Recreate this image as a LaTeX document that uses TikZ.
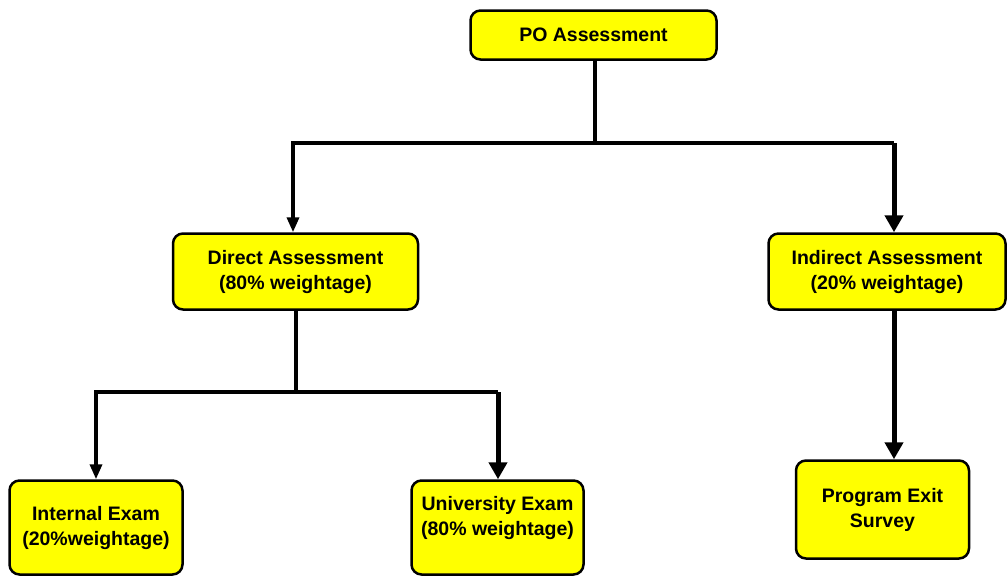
\documentclass[tikz,border=0pt]{standalone}
\usepackage{fontspec}
\setmainfont{Liberation Sans}
\usetikzlibrary{arrows.meta}
\definecolor{boxyellow}{RGB}{255,255,0}
\begin{document}
\begin{tikzpicture}[x=1pt,y=-1pt,
  box/.style={draw=black, line width=2.5pt, fill=boxyellow, rounded corners=10pt, align=center, font=\fontsize{19.5}{25}\selectfont\bfseries, inner sep=0pt},
  lbl/.style={align=center, font=\fontsize{19.5}{25}\selectfont\bfseries, inner sep=0pt},
  conn/.style={line width=3.5pt},
  thinarrow/.style={line width=3.5pt, -{Triangle[width=12pt,length=15pt]}},
  thickarrow/.style={line width=5pt, -{Triangle[width=18pt,length=17pt]}}]
\useasboundingbox (0,0) rectangle (1007,576);
\node[box, minimum width=246pt, minimum height=49pt] (po) at (593.5,35) {PO Assessment};
\node[box, minimum width=245pt, minimum height=76pt] (direct) at (295.5,271.5) {Direct Assessment\\(80\% weightage)};
\node[box, minimum width=237pt, minimum height=76pt] (indirect) at (887,271.5) {Indirect Assessment\\(20\% weightage)};
\node[box, minimum width=173pt, minimum height=94pt] (internal) at (96,527.5) {Internal Exam\\(20\%weightage)};
\node[box, minimum width=172pt, minimum height=94pt] (univ) at (497.5,527.5) {};
\node[lbl] (univtext) at (497.5,518) {University Exam\\(80\% weightage)};
\node[box, minimum width=173pt, minimum height=98pt] (exit) at (882.5,509.5) {Program Exit\\Survey};
\coordinate (j1) at (595,143);
\coordinate (jl) at (293,143);
\coordinate (jr) at (894,143);
\coordinate (k1) at (296,392);
\coordinate (kl) at (96,392);
\coordinate (kr) at (498,392);
\draw[conn] (po.south -| j1) -- (j1);
\draw[thinarrow] (j1) -| (direct.north -| jl);
\draw[conn] (j1) -- (jr);
\draw[thickarrow] (jr) -- (indirect.north -| jr);
\draw[conn] (direct.south -| k1) -- (k1);
\draw[thinarrow] (k1) -| (internal.north -| kl);
\draw[conn] (k1) -- (kr);
\draw[thickarrow] (kr) -- (univ.north -| kr);
\draw[thickarrow] (indirect.south -| jr) -- (exit.north -| jr);
\end{tikzpicture}
\end{document}
